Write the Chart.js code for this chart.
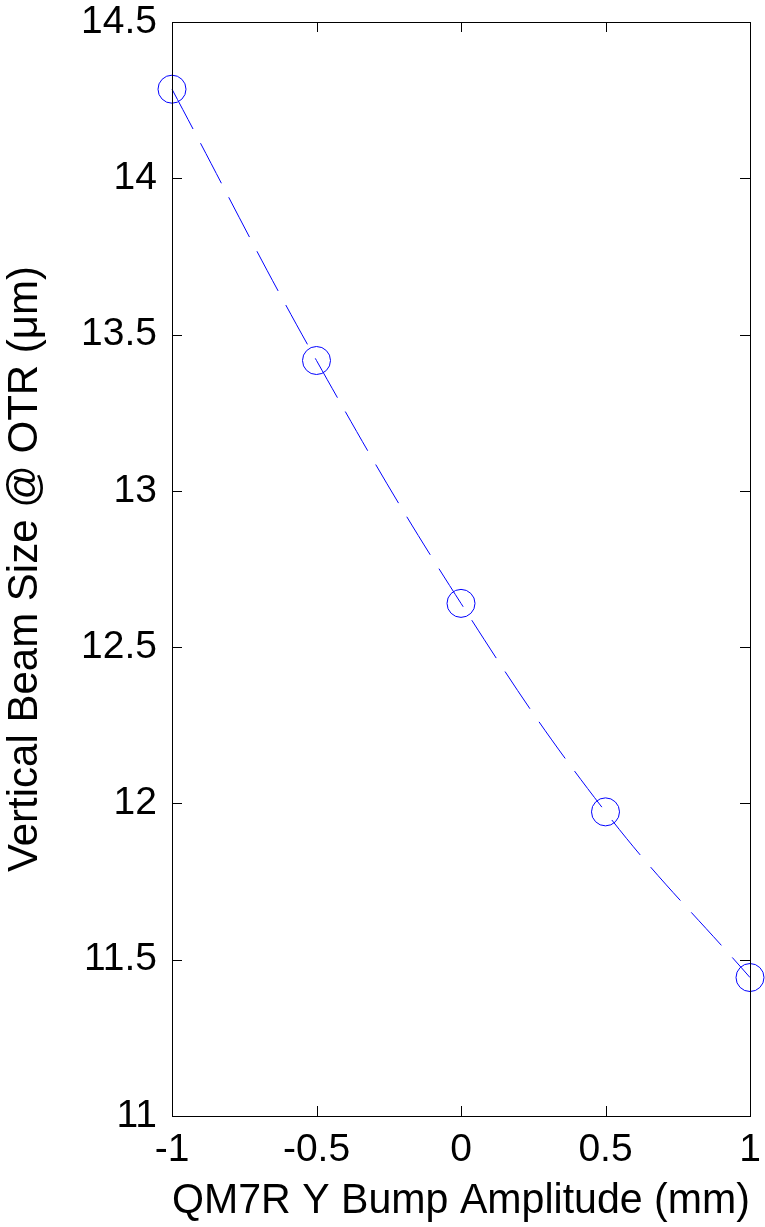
<!DOCTYPE html>
<html>
<head>
<meta charset="utf-8">
<script src="https://cdn.jsdelivr.net/npm/chart.js@4"></script>
<style>
  html, body { margin: 0; padding: 0; background: #fff; }
  canvas { display: block; }
</style>
</head>
<body>
<canvas id="beamChart" width="765" height="1227"></canvas>
<script>
// Data
const bumpAmplitude = [-1, -0.5, 0, 0.5, 1];
const beamSize = [14.285, 13.417, 12.64, 11.973, 11.443];

// Tick labels
const xTickValues = [-1, -0.5, 0, 0.5, 1];
const xTickLabels = ['-1', '-0.5', '0', '0.5', '1'];
const yTickValues = [11, 11.5, 12, 12.5, 13, 13.5, 14, 14.5];
const yTickLabels = ['11', '11.5', '12', '12.5', '13', '13.5', '14', '14.5'];

const FONT = "'Liberation Sans', Arial, sans-serif";

// Box around plot area + inward tick marks (matlab style)
const boxPlugin = {
    id: 'boxTicks',
    afterDraw(chart) {
        const { ctx, chartArea, scales } = chart;
        const len = 10;
        ctx.save();
        ctx.strokeStyle = '#000';
        ctx.lineWidth = 1;
        ctx.strokeRect(chartArea.left + 0.5, chartArea.top + 0.5,
            chartArea.right - chartArea.left, chartArea.bottom - chartArea.top);
        ctx.beginPath();
        xTickValues.forEach(v => {
            const x = Math.round(scales.x.getPixelForValue(v)) + 0.5;
            ctx.moveTo(x, chartArea.bottom);
            ctx.lineTo(x, chartArea.bottom - len);
            ctx.moveTo(x, chartArea.top);
            ctx.lineTo(x, chartArea.top + len);
        });
        yTickValues.forEach(v => {
            const y = Math.round(scales.y.getPixelForValue(v)) + 0.5;
            ctx.moveTo(chartArea.left, y);
            ctx.lineTo(chartArea.left + len, y);
            ctx.moveTo(chartArea.right, y);
            ctx.lineTo(chartArea.right - len, y);
        });
        ctx.stroke();
        ctx.restore();
    }
};

const ctx = document.getElementById('beamChart').getContext('2d');

new Chart(ctx, {
    type: 'scatter',
    data: {
        datasets: [
            {
                // fitted curve
                data: bumpAmplitude.map((x, i) => ({ x: x, y: beamSize[i] })),
                showLine: true,
                borderColor: '#0000ff',
                borderWidth: 1,
                borderDash: [45, 16],
                tension: 0.4,
                pointRadius: 0,
                fill: false
            },
            {
                // measured points
                data: bumpAmplitude.map((x, i) => ({ x: x, y: beamSize[i] })),
                showLine: false,
                pointStyle: 'circle',
                pointRadius: 14,
                pointBorderWidth: 1,
                pointBorderColor: '#0000ff',
                pointBackgroundColor: 'rgba(0,0,0,0)'
            }
        ]
    },
    plugins: [boxPlugin],
    options: {
        responsive: false,
        devicePixelRatio: 1,
        animation: false,
        layout: {
            padding: { left: 0, right: 13, top: 22, bottom: 0 }
        },
        plugins: {
            legend: { display: false },
            tooltip: { enabled: false }
        },
        elements: {
            point: { hoverRadius: 14 }
        },
        datasets: {
            scatter: { clip: false }
        },
        scales: {
            x: {
                type: 'linear',
                min: -1,
                max: 1,
                afterBuildTicks: (scale) => {
                    scale.ticks = xTickValues.map(v => ({ value: v }));
                },
                afterFit: (scale) => {
                    scale.height = 111;
                    scale.paddingLeft = 0;
                    scale.paddingRight = 0;
                },
                grid: { display: false, drawTicks: false },
                border: { display: false },
                ticks: {
                    padding: 11,
                    color: '#000',
                    font: { family: FONT, size: 39 },
                    maxRotation: 0,
                    callback: (value) => xTickLabels[xTickValues.indexOf(value)]
                },
                title: {
                    display: true,
                    text: 'QM7R Y Bump Amplitude (mm)',
                    color: '#000',
                    font: { family: FONT, size: 43 },
                    padding: { top: 0, bottom: 0 }
                }
            },
            y: {
                type: 'linear',
                min: 11,
                max: 14.5,
                afterBuildTicks: (scale) => {
                    scale.ticks = yTickValues.map(v => ({ value: v }));
                },
                afterFit: (scale) => {
                    scale.width = 172;
                    scale.paddingTop = 0;
                    scale.paddingBottom = 0;
                },
                grid: { display: false, drawTicks: false },
                border: { display: false },
                ticks: {
                    padding: 15,
                    color: '#000',
                    font: { family: FONT, size: 39 },
                    callback: (value) => yTickLabels[yTickValues.indexOf(value)]
                },
                title: {
                    display: true,
                    text: 'Vertical Beam Size @ OTR (\u03bcm)',
                    color: '#000',
                    font: { family: FONT, size: 42 },
                    padding: { top: 0, bottom: 2 }
                }
            }
        }
    }
});
</script>
</body>
</html>
